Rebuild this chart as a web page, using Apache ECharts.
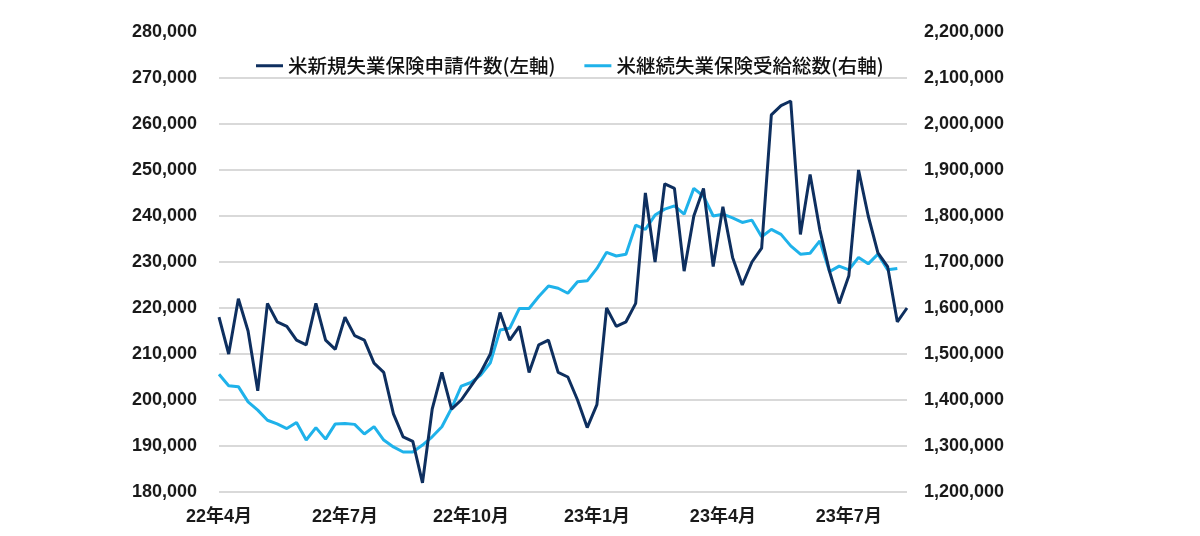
<!DOCTYPE html>
<html>
<head>
<meta charset="utf-8">
<script src="https://cdn.jsdelivr.net/npm/echarts@6/dist/echarts.min.js"></script>
<style>
html,body{margin:0;padding:0;background:#fff;}
#c{width:1200px;height:536px;}
</style>
</head>
<body>
<div id="c"></div>
<script>
var categories = [
'22/4/2','22/4/9','22/4/16','22/4/23','22/4/30','22/5/7','22/5/14','22/5/21','22/5/28','22/6/4',
'22/6/11','22/6/18','22/6/25','22/7/2','22/7/9','22/7/16','22/7/23','22/7/30','22/8/6','22/8/13',
'22/8/20','22/8/27','22/9/3','22/9/10','22/9/17','22/9/24','22/10/1','22/10/8','22/10/15','22/10/22',
'22/10/29','22/11/5','22/11/12','22/11/19','22/11/26','22/12/3','22/12/10','22/12/17','22/12/24','22/12/31',
'23/1/7','23/1/14','23/1/21','23/1/28','23/2/4','23/2/11','23/2/18','23/2/25','23/3/4','23/3/11',
'23/3/18','23/3/25','23/4/1','23/4/8','23/4/15','23/4/22','23/4/29','23/5/6','23/5/13','23/5/20',
'23/5/27','23/6/3','23/6/10','23/6/17','23/6/24','23/7/1','23/7/8','23/7/15','23/7/22','23/7/29',
'23/8/5','23/8/12'
];
var tickLabels = ['22年4月','22年7月','22年10月','23年1月','23年4月','23年7月'];
var initialClaims = [
218000,210000,222000,215000,202000,221000,217000,216000,213000,212000,
221000,213000,211000,218000,214000,213000,208000,206000,197000,192000,
191000,182000,198000,206000,198000,200000,203000,206000,210000,219000,
213000,216000,206000,212000,213000,206000,205000,200000,194000,199000,
220000,216000,217000,221000,245000,230000,247000,246000,228000,240000,
246000,229000,242000,231000,225000,230000,233000,262000,264000,265000,
236000,249000,237000,228000,221000,227000,250000,240000,232000,229000,
217000,220000
];
var continuingClaims = [
1456000,1431000,1429000,1396000,1378000,1356000,1348000,1338000,1351000,1313000,
1340000,1315000,1348000,1349000,1347000,1326000,1342000,1313000,1298000,1287000,
1287000,1302000,1320000,1342000,1382000,1430000,1438000,1454000,1481000,1552000,
1556000,1599000,1599000,1625000,1648000,1643000,1632000,1657000,1659000,1686000,
1721000,1713000,1717000,1780000,1771000,1802000,1815000,1822000,1804000,1860000,
1843000,1800000,1804000,1796000,1786000,1791000,1755000,1771000,1760000,1735000,
1717000,1719000,1746000,1679000,1691000,1683000,1710000,1696000,1717000,1683000,
1686000
];
var seriesNames = ['米新規失業保険申請件数(左軸)', '米継続失業保険受給総数(右軸)'];

var FONT = '"Liberation Sans", Arial, "Noto Sans CJK JP", sans-serif';
var gridColors = [];
for (var i = 0; i < 10; i++) gridColors.push('#d9d9d9');
gridColors.push('rgba(0,0,0,0)');

var chart = echarts.init(document.getElementById('c'), null, {renderer: 'canvas'});
chart.setOption({
  animation: false,
  backgroundColor: '#ffffff',
  grid: {left: 219, right: 293, top: 32, bottom: 44},
  legend: {
    top: 51,
    left: 251,
    itemGap: 29,
    itemWidth: 27,
    itemHeight: 3,
    icon: 'rect',
    textStyle: {fontSize: 19.5, fontWeight: 500, color: '#111111', fontFamily: '"Noto Sans CJK JP", sans-serif'},
    data: [
      {name: seriesNames[0], itemStyle: {color: '#0e2f5f'}},
      {name: seriesNames[1], itemStyle: {color: '#1fb2ea'}}
    ]
  },
  xAxis: {
    type: 'category',
    data: categories,
    boundaryGap: false,
    axisLine: {show: false},
    axisTick: {show: false},
    splitLine: {show: false},
    axisLabel: {
      interval: 12,
      margin: 16,
      fontSize: 18,
      fontWeight: 'bold',
      color: '#1a1a1a',
      fontFamily: FONT,
      formatter: function (v, idx) { return tickLabels[Math.round(idx / 13)] || ''; }
    }
  },
  yAxis: [
    {
      type: 'value',
      min: 180000, max: 280000, interval: 10000,
      axisLine: {show: false},
      axisTick: {show: false},
      splitLine: {show: true, lineStyle: {color: gridColors, width: 2}},
      axisLabel: {
        margin: 22, fontSize: 18, fontWeight: 'bold', color: '#1a1a1a', fontFamily: FONT,
        formatter: function (v) { return v.toLocaleString('en-US'); }
      }
    },
    {
      type: 'value',
      min: 1200000, max: 2200000, interval: 100000,
      axisLine: {show: false},
      axisTick: {show: false},
      splitLine: {show: false},
      axisLabel: {
        margin: 17, fontSize: 18, fontWeight: 'bold', color: '#1a1a1a', fontFamily: FONT,
        formatter: function (v) { return v.toLocaleString('en-US'); }
      }
    }
  ],
  series: [
    {
      name: seriesNames[0], type: 'line', yAxisIndex: 0, data: initialClaims,
      symbol: 'none', lineStyle: {color: '#0e2f5f', width: 3}, itemStyle: {color: '#0e2f5f'}, z: 3
    },
    {
      name: seriesNames[1], type: 'line', yAxisIndex: 1, data: continuingClaims,
      symbol: 'none', lineStyle: {color: '#1fb2ea', width: 3}, itemStyle: {color: '#1fb2ea'}, z: 2
    }
  ]
});
</script>
</body>
</html>
